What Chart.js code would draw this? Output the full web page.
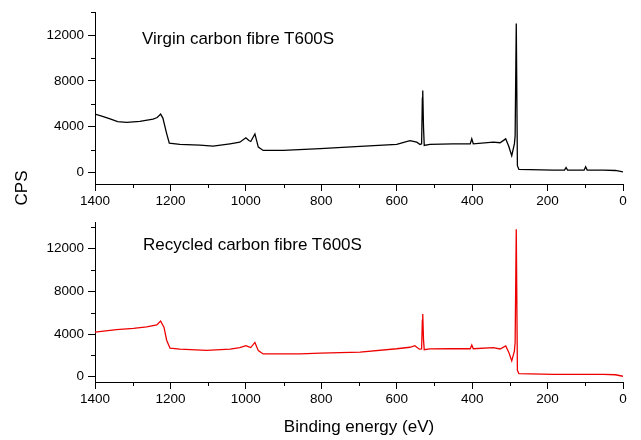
<!DOCTYPE html>
<html>
<head>
<meta charset="utf-8">
<script src="https://cdn.jsdelivr.net/npm/chart.js@4"></script>
<style>
body { margin: 0; background: #fff; }
#wrap { position: relative; width: 641px; height: 440px; font-family: "Liberation Sans", Arial, sans-serif; }
#topChart { position: absolute; left: 0; top: 0; }
#bottomChart { position: absolute; left: 0; top: 210px; }
.label { position: absolute; font-size: 17px; line-height: 20px; color: #000; white-space: nowrap; }
#cps { left: -8px; top: 178px; width: 60px; text-align: center; transform: rotate(-90deg); }
</style>
</head>
<body>
<div id="wrap">
  <canvas id="topChart" width="641" height="210"></canvas>
  <canvas id="bottomChart" width="641" height="230"></canvas>
  <div class="label" style="left:142px; top:29px;">Virgin carbon fibre T600S</div>
  <div class="label" style="left:143px; top:235px;">Recycled carbon fibre T600S</div>
  <div class="label" id="cps">CPS</div>
</div>
<script>
// spettro fibra vergine (binding energy eV / CPS)
const virginEnergy = [1400, 1380, 1360, 1340, 1316, 1281, 1246, 1235, 1226, 1220, 1210, 1203, 1175, 1122, 1087, 1042, 1016, 1000, 992, 987, 976, 967, 954, 901, 803, 697, 600, 565, 547, 538, 534, 532, 531, 529, 527, 512, 451, 405, 401, 397, 344, 326, 311, 303, 295, 288, 286, 283, 280, 276, 185, 155, 151, 147, 103, 99, 95, 52, 20, 0];
const virginCps = [5100, 4900, 4690, 4450, 4370, 4460, 4660, 4800, 5100, 4750, 3400, 2560, 2450, 2400, 2300, 2510, 2650, 3030, 2800, 2710, 3370, 2220, 1930, 1930, 2080, 2280, 2450, 2790, 2650, 2450, 2500, 6500, 7160, 4000, 2360, 2450, 2510, 2500, 2940, 2510, 2650, 2600, 2940, 2300, 1470, 2500, 3200, 13000, 600, 270, 210, 210, 440, 210, 220, 500, 220, 210, 180, 60];

// spettro fibra riciclata
const recycledEnergy = [1400, 1343, 1298, 1263, 1236, 1226, 1217, 1210, 1201, 1175, 1104, 1042, 1016, 1000, 992, 987, 976, 967, 954, 856, 803, 697, 600, 565, 552, 540, 534, 532, 531, 529, 527, 512, 451, 405, 401, 397, 344, 326, 311, 303, 295, 288, 286, 283, 280, 276, 185, 52, 20, 0];
const recycledCps = [4170, 4410, 4530, 4680, 4860, 5220, 4620, 3420, 2670, 2580, 2460, 2580, 2730, 2910, 2800, 2730, 3210, 2440, 2130, 2130, 2200, 2310, 2620, 2760, 2910, 2580, 2600, 5300, 5880, 3500, 2530, 2600, 2620, 2620, 2970, 2620, 2730, 2600, 2890, 2300, 1480, 2400, 3200, 13840, 600, 280, 220, 220, 180, 40];

// tick
const xTicks = [0, 200, 400, 600, 800, 1000, 1200, 1400];
const xMinorTicks = [100, 300, 500, 700, 900, 1100, 1300];
const yTicks = [0, 4000, 8000, 12000];
const yMinorTicks = [2000, 6000, 10000, 14000];

const tickFont = { family: "'Liberation Sans', Arial, sans-serif", size: 13.5 };

// tacche secondarie disegnate con le scale del grafico
const minorTicks = {
  id: 'minorTicks',
  afterDraw(chart) {
    const ctx = chart.ctx, area = chart.chartArea;
    const x = chart.scales.x, y = chart.scales.y;
    ctx.save();
    ctx.strokeStyle = '#000';
    ctx.lineWidth = 1;
    ctx.beginPath();
    xMinorTicks.forEach(function(v) {
      const px = Math.round(x.getPixelForValue(v)) + 0.5;
      ctx.moveTo(px, area.bottom);
      ctx.lineTo(px, area.bottom + 4);
    });
    yMinorTicks.forEach(function(v) {
      if (v < y.min || v > y.max) return;
      const py = Math.round(y.getPixelForValue(v)) + 0.5;
      ctx.moveTo(area.left - 4, py);
      ctx.lineTo(area.left, py);
    });
    ctx.stroke();
    ctx.restore();
  }
};

function plain(v) { return String(v); }

function makeChart(id, energy, cps, color, yMin, yMax, padTop, xHeight, showTitle) {
  const points = energy.map(function(e, i) { return { x: e, y: cps[i] }; });
  return new Chart(document.getElementById(id).getContext('2d'), {
    type: 'line',
    data: {
      datasets: [{
        data: points,
        borderColor: color,
        borderWidth: 1.3,
        pointRadius: 0,
        tension: 0,
        fill: false
      }]
    },
    options: {
      responsive: false,
      animation: false,
      layout: { padding: { top: padTop, right: 18, left: 0, bottom: 0 } },
      plugins: { legend: { display: false }, tooltip: { enabled: false } },
      scales: {
        x: {
          type: 'linear',
          reverse: true,
          min: 0,
          max: 1400,
          afterBuildTicks: function(s) { s.ticks = xTicks.map(function(v) { return { value: v }; }); },
          afterFit: function(s) { s.height = xHeight; },
          ticks: { color: '#000', font: tickFont, padding: 2, maxRotation: 0, callback: plain },
          grid: { drawOnChartArea: false, drawTicks: true, tickLength: 7, color: '#000' },
          border: { display: true, color: '#000', width: 1 },
          title: {
            display: showTitle,
            text: 'Binding energy (eV)',
            color: '#000',
            font: { family: "'Liberation Sans', Arial, sans-serif", size: 17 },
            padding: { top: 0, bottom: 2 }
          }
        },
        y: {
          min: yMin,
          max: yMax,
          afterBuildTicks: function(s) { s.ticks = yTicks.map(function(v) { return { value: v }; }); },
          afterFit: function(s) { s.width = 95; },
          ticks: { color: '#000', font: tickFont, padding: 4, callback: plain },
          grid: { drawOnChartArea: false, drawTicks: true, tickLength: 7, color: '#000' },
          border: { display: true, color: '#000', width: 1 }
        }
      }
    },
    plugins: [minorTicks]
  });
}

document.addEventListener("DOMContentLoaded", function() {
  makeChart('topChart', virginEnergy, virginCps, '#000000', -1000, 14000, 10, 26, false);
  makeChart('bottomChart', recycledEnergy, recycledCps, '#ee0000', -500, 14500, 5, 58, true);
});
</script>
</body>
</html>
